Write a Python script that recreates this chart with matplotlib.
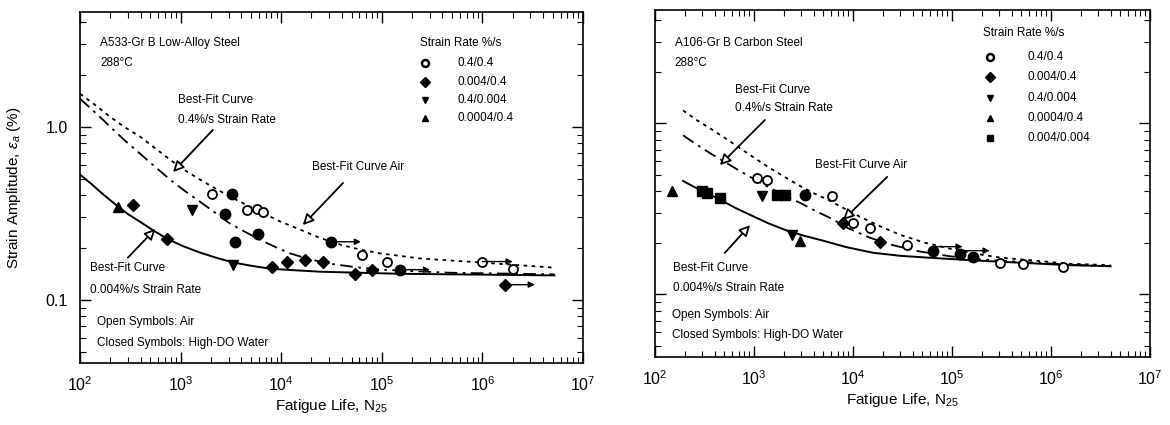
import matplotlib
matplotlib.use("Agg")
import matplotlib.pyplot as plt
import numpy as np
from matplotlib.ticker import LogLocator, NullFormatter, FixedLocator, FixedFormatter

plt.rcParams['font.family'] = ['Liberation Sans', 'DejaVu Sans']
plt.rcParams['mathtext.fontset'] = 'custom'
plt.rcParams['mathtext.rm'] = 'Liberation Sans'
plt.rcParams['mathtext.it'] = 'Liberation Sans:italic'

# ---------------- data: left panel (A533-Gr B) ----------------
L_air_curve_N = [100, 150, 199, 280, 395, 560, 785, 1100, 1560, 2200, 3100, 4400, 6150, 9500, 15400, 24000,
                 38400, 60000, 96000, 240000, 946000, 5.2e6]
L_air_curve_e = [1.55, 1.30, 1.14, 0.99, 0.876, 0.75, 0.644, 0.56, 0.494, 0.44, 0.394, 0.355, 0.323, 0.285,
                 0.254, 0.228, 0.208, 0.195, 0.185, 0.173, 0.164, 0.153]
L_fast_curve_N = [100, 150, 199, 280, 395, 560, 785, 1100, 1560, 2200, 3100, 4400, 6150, 8800, 12300, 19000,
                  31000, 55000, 98000, 470000, 5.2e6]
L_fast_curve_e = [1.45, 1.17, 1.0, 0.83, 0.698, 0.585, 0.494, 0.425, 0.368, 0.318, 0.275, 0.246, 0.222, 0.201,
                  0.185, 0.171, 0.161, 0.154, 0.149, 0.143, 0.140]
L_slow_curve_N = [100, 130, 158, 195, 239, 300, 395, 530, 733, 1050, 1560, 2300, 3320, 5000, 7740, 13000,
                  24300, 60000, 152000, 5.2e6]
L_slow_curve_e = [0.528, 0.466, 0.421, 0.380, 0.345, 0.312, 0.282, 0.252, 0.225, 0.204, 0.187, 0.174, 0.164,
                  0.157, 0.151, 0.148, 0.145, 0.143, 0.141, 0.138]

L_air_04_N = [2050, 4570, 5750, 6600, 63000, 112000, 1.0e6, 2.0e6]
L_air_04_e = [0.410, 0.331, 0.336, 0.320, 0.182, 0.166, 0.166, 0.151]
L_wat_04_N = [3240, 2760, 3470, 5900, 31000, 151000]
L_wat_04_e = [0.410, 0.314, 0.216, 0.238, 0.216, 0.149]
L_wat_0004_N = [336, 733, 8100, 11500, 17300, 26000, 54000, 79000, 1.66e6]
L_wat_0004_e = [0.354, 0.225, 0.155, 0.166, 0.170, 0.166, 0.140, 0.149, 0.122]
L_wat_04_0004_N = [1297, 3330]
L_wat_04_0004_e = [0.331, 0.159]
L_wat_00004_N = [239]
L_wat_00004_e = [0.345]
L_runout_N = [31000, 151000, 1.0e6, 1.66e6]
L_runout_e = [0.216, 0.149, 0.166, 0.122]

# ---------------- data: right panel (A106-Gr B) ----------------
R_air_curve_N = [192, 260, 360, 510, 722, 1020, 1450, 2050, 2920, 4100, 5860, 8300, 11800, 18500, 29800,
                 52000, 95500, 170000, 306000, 1.55e6, 4.0e6]
R_air_curve_e = [1.19, 1.05, 0.935, 0.82, 0.716, 0.625, 0.547, 0.485, 0.430, 0.388, 0.352, 0.316, 0.284,
                 0.251, 0.223, 0.201, 0.185, 0.173, 0.164, 0.151, 0.148]
R_fast_curve_N = [192, 260, 360, 510, 722, 1020, 1450, 2050, 2920, 4100, 5860, 9000, 14900, 26000, 47500,
                  95000, 192000, 1.55e6, 4.0e6]
R_fast_curve_e = [0.851, 0.755, 0.669, 0.593, 0.526, 0.469, 0.419, 0.377, 0.343, 0.309, 0.280, 0.243, 0.214,
                  0.193, 0.178, 0.167, 0.160, 0.149, 0.146]
R_slow_curve_N = [192, 298, 454, 650, 955, 1400, 2150, 3200, 4980, 8500, 15900, 30000, 55800, 163000,
                  1.55e6, 4.0e6]
R_slow_curve_e = [0.460, 0.402, 0.358, 0.320, 0.288, 0.260, 0.236, 0.220, 0.206, 0.189, 0.175, 0.168, 0.164,
                  0.158, 0.148, 0.146]

R_air_04_N = [1070, 1350, 6130, 10000, 14800, 35000, 306000, 521000, 1.32e6]
R_air_04_e = [0.479, 0.466, 0.376, 0.262, 0.245, 0.195, 0.153, 0.150, 0.144]
R_wat_04_N = [3270, 64000, 120000, 163000]
R_wat_04_e = [0.381, 0.180, 0.171, 0.166]
R_wat_0004_N = [7930, 18700]
R_wat_0004_e = [0.262, 0.201]
R_wat_04_0004_N = [1205, 2400]
R_wat_04_0004_e = [0.376, 0.223]
R_wat_00004_N = [148, 2900]
R_wat_00004_e = [0.402, 0.206]
R_wat_0004_0004_N = [298, 335, 454, 1700, 2050]
R_wat_0004_0004_e = [0.400, 0.390, 0.366, 0.380, 0.380]
R_runout_N = [64000, 120000]
R_runout_e = [0.190, 0.180]

L_legend = ["0.4/0.4", "0.004/0.4", "0.4/0.004", "0.0004/0.4"]
R_legend = ["0.4/0.4", "0.004/0.4", "0.4/0.004", "0.0004/0.4", "0.004/0.004"]
x_ticks = [1e2, 1e3, 1e4, 1e5, 1e6, 1e7]
x_ticklabels = ["$10^2$", "$10^3$", "$10^4$", "$10^5$", "$10^6$", "$10^7$"]

fig = plt.figure(figsize=(11.7, 4.25), dpi=100)
axL = fig.add_axes([80/1170, 1-363/425, 503/1170, 351/425])
axR = fig.add_axes([655/1170, 1-357/425, 495/1170, 347/425])

AIR_LS = (0, (2.0, 2.5))
FAST_LS = (0, (7, 3, 1.5, 3))
ms = 6.5

def style_axes(ax, ylabels):
    ax.set_xscale('log')
    ax.set_yscale('log')
    ax.set_xlim(1e2, 1e7)
    ax.set_ylim(0.043, 4.6)
    ax.xaxis.set_major_locator(FixedLocator(x_ticks))
    ax.xaxis.set_major_formatter(FixedFormatter(x_ticklabels))
    ax.xaxis.set_minor_locator(LogLocator(base=10, subs=np.arange(2, 10)))
    ax.xaxis.set_minor_formatter(NullFormatter())
    ax.yaxis.set_major_locator(FixedLocator([0.1, 1.0]))
    if ylabels:
        ax.yaxis.set_major_formatter(FixedFormatter(["0.1", "1.0"]))
    else:
        ax.yaxis.set_major_formatter(NullFormatter())
    ax.yaxis.set_minor_locator(LogLocator(base=10, subs=np.arange(2, 10)))
    ax.yaxis.set_minor_formatter(NullFormatter())
    ax.tick_params(which='both', direction='in', top=True, right=True)
    ax.tick_params(which='major', length=8, width=1.0, labelsize=11.5, pad=9)
    ax.tick_params(which='minor', length=4, width=0.8)
    for s in ax.spines.values():
        s.set_linewidth(1.2)
    ax.set_xlabel("Fatigue Life, N$_{25}$", fontsize=11, labelpad=2)

def runouts(ax, N, e):
    for n, v in zip(N, e):
        ax.annotate('', xy=(n * 2.0, v), xytext=(n, v),
                    arrowprops=dict(arrowstyle='-|>', color='black', lw=1.0,
                                    mutation_scale=9, shrinkA=0, shrinkB=0))

def hollow_arrow(ax, tail, head):
    ax.annotate('', xy=head, xytext=tail, xycoords='axes fraction', textcoords='axes fraction',
                arrowprops=dict(arrowstyle='-|>', fc='white', ec='black', lw=1.3,
                                mutation_scale=16, shrinkA=0, shrinkB=0))

fs = 8.5

# ---------------- left panel ----------------
ax = axL
style_axes(ax, True)
ax.plot(L_air_curve_N, L_air_curve_e, color='black', lw=1.3, ls=AIR_LS)
ax.plot(L_fast_curve_N, L_fast_curve_e, color='black', lw=1.3, ls=FAST_LS)
ax.plot(L_slow_curve_N, L_slow_curve_e, color='black', lw=1.4, ls='-')
ax.plot(L_air_04_N, L_air_04_e, 'o', mfc='white', mec='black', mew=1.3, ms=ms, ls='none')
ax.plot(L_wat_04_N, L_wat_04_e, 'o', color='black', ms=ms + 1, ls='none')
ax.plot(L_wat_0004_N, L_wat_0004_e, 'D', color='black', ms=ms - 0.5, ls='none')
ax.plot(L_wat_04_0004_N, L_wat_04_0004_e, 'v', color='black', ms=ms, ls='none')
ax.plot(L_wat_00004_N, L_wat_00004_e, '^', color='black', ms=ms, ls='none')
runouts(ax, L_runout_N, L_runout_e)
ax.set_ylabel("Strain Amplitude, $\\epsilon_a$ (%)", fontsize=11, labelpad=16)

ax.text(0.040, 0.912, "A533-Gr B Low-Alloy Steel", transform=ax.transAxes, fontsize=fs, va='center')
ax.text(0.040, 0.855, "288°C", transform=ax.transAxes, fontsize=fs, va='center')
ax.text(0.676, 0.912, "Strain Rate %/s", transform=ax.transAxes, fontsize=fs, va='center')
leg_markers_L = [dict(marker='o', mfc='white', mec='black', mew=1.8),
                 dict(marker='D', mfc='black', mec='black'),
                 dict(marker='v', mfc='black', mec='black'),
                 dict(marker='^', mfc='black', mec='black')]
rows_L = [0.855, 0.801, 0.749, 0.698]
for lab, mk, yy in zip(L_legend, leg_markers_L, rows_L):
    ax.plot([0.686], [yy], transform=ax.transAxes, ms=5, ls='none', **mk)
    ax.text(0.750, yy, lab, transform=ax.transAxes, fontsize=fs, va='center')

ax.text(0.195, 0.749, "Best-Fit Curve", transform=ax.transAxes, fontsize=fs, va='center')
ax.text(0.195, 0.692, "0.4%/s Strain Rate", transform=ax.transAxes, fontsize=fs, va='center')
hollow_arrow(ax, (0.264, 0.664), (0.185, 0.544))
ax.text(0.461, 0.558, "Best-Fit Curve Air", transform=ax.transAxes, fontsize=fs, va='center')
hollow_arrow(ax, (0.523, 0.513), (0.443, 0.393))
hollow_arrow(ax, (0.095, 0.300), (0.150, 0.382))
ax.text(0.020, 0.271, "Best-Fit Curve", transform=ax.transAxes, fontsize=fs, va='center')
ax.text(0.020, 0.208, "0.004%/s Strain Rate", transform=ax.transAxes, fontsize=fs, va='center')
ax.text(0.034, 0.117, "Open Symbols: Air", transform=ax.transAxes, fontsize=fs, va='center')
ax.text(0.034, 0.057, "Closed Symbols: High-DO Water", transform=ax.transAxes, fontsize=fs, va='center')

# ---------------- right panel ----------------
ax = axR
style_axes(ax, False)
ax.plot(R_air_curve_N, R_air_curve_e, color='black', lw=1.3, ls=AIR_LS)
ax.plot(R_fast_curve_N, R_fast_curve_e, color='black', lw=1.3, ls=FAST_LS)
ax.plot(R_slow_curve_N, R_slow_curve_e, color='black', lw=1.4, ls='-')
ax.plot(R_air_04_N, R_air_04_e, 'o', mfc='white', mec='black', mew=1.3, ms=ms, ls='none')
ax.plot(R_wat_04_N, R_wat_04_e, 'o', color='black', ms=ms + 1, ls='none')
ax.plot(R_wat_0004_N, R_wat_0004_e, 'D', color='black', ms=ms - 0.5, ls='none')
ax.plot(R_wat_04_0004_N, R_wat_04_0004_e, 'v', color='black', ms=ms, ls='none')
ax.plot(R_wat_00004_N, R_wat_00004_e, '^', color='black', ms=ms, ls='none')
ax.plot(R_wat_0004_0004_N, R_wat_0004_0004_e, 's', color='black', ms=ms, ls='none')
runouts(ax, R_runout_N, R_runout_e)

ax.text(0.040, 0.905, "A106-Gr B Carbon Steel", transform=ax.transAxes, fontsize=fs, va='center')
ax.text(0.040, 0.847, "288°C", transform=ax.transAxes, fontsize=fs, va='center')
ax.text(0.663, 0.934, "Strain Rate %/s", transform=ax.transAxes, fontsize=fs, va='center')
leg_markers_R = [dict(marker='o', mfc='white', mec='black', mew=1.8),
                 dict(marker='D', mfc='black', mec='black'),
                 dict(marker='v', mfc='black', mec='black'),
                 dict(marker='^', mfc='black', mec='black'),
                 dict(marker='s', mfc='black', mec='black')]
rows_R = [0.865, 0.807, 0.746, 0.689, 0.631]
for lab, mk, yy in zip(R_legend, leg_markers_R, rows_R):
    ax.plot([0.677], [yy], transform=ax.transAxes, ms=5, ls='none', **mk)
    ax.text(0.752, yy, lab, transform=ax.transAxes, fontsize=fs, va='center')

ax.text(0.162, 0.769, "Best-Fit Curve", transform=ax.transAxes, fontsize=fs, va='center')
ax.text(0.162, 0.718, "0.4%/s Strain Rate", transform=ax.transAxes, fontsize=fs, va='center')
hollow_arrow(ax, (0.222, 0.683), (0.131, 0.553))
ax.text(0.323, 0.553, "Best-Fit Curve Air", transform=ax.transAxes, fontsize=fs, va='center')
hollow_arrow(ax, (0.469, 0.519), (0.380, 0.395))
hollow_arrow(ax, (0.141, 0.300), (0.192, 0.380))
ax.text(0.036, 0.256, "Best-Fit Curve", transform=ax.transAxes, fontsize=fs, va='center')
ax.text(0.036, 0.199, "0.004%/s Strain Rate", transform=ax.transAxes, fontsize=fs, va='center')
ax.text(0.034, 0.121, "Open Symbols: Air", transform=ax.transAxes, fontsize=fs, va='center')
ax.text(0.034, 0.063, "Closed Symbols: High-DO Water", transform=ax.transAxes, fontsize=fs, va='center')

fig.savefig("out.png", dpi=100)
